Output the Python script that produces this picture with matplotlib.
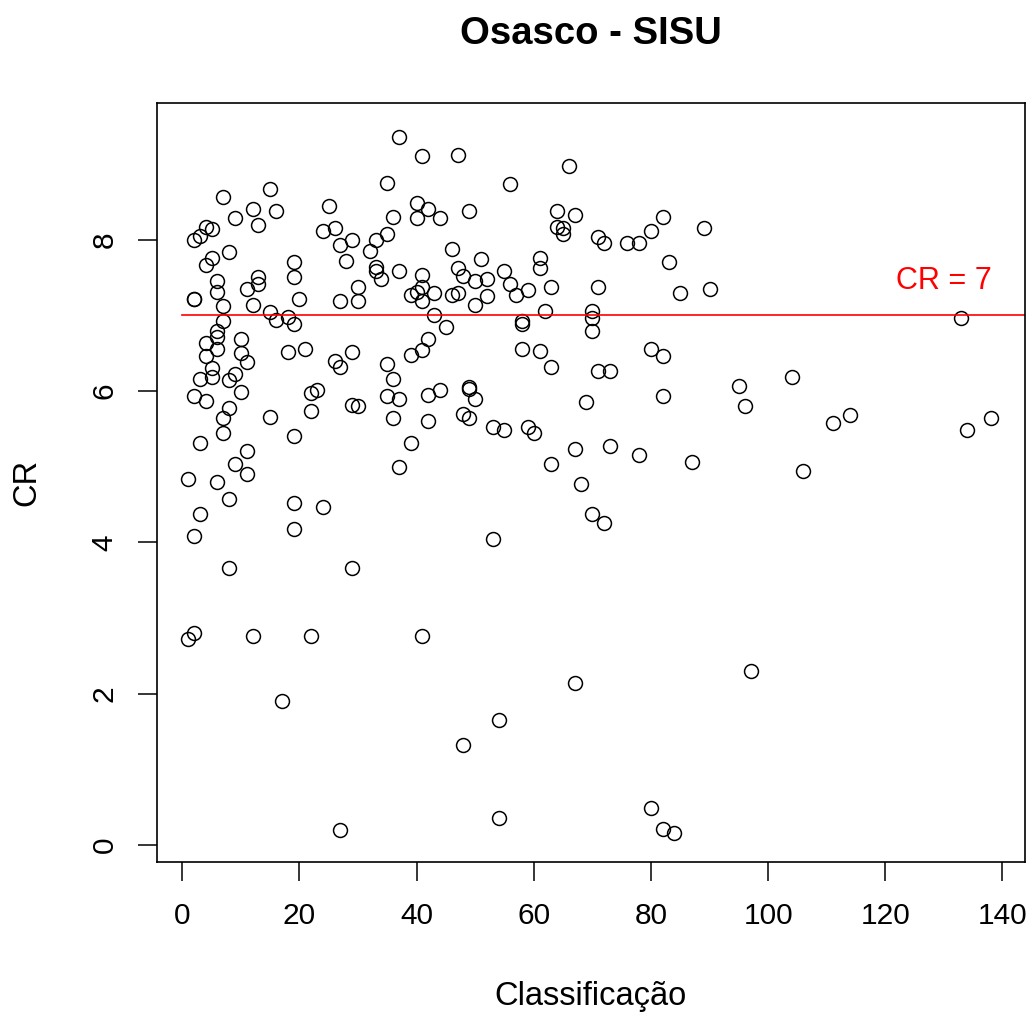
import numpy as np
import matplotlib
matplotlib.use('Agg')
import matplotlib.pyplot as plt

# classificacao (x) e CR (y)
classificacao = [37, 35, 15, 7, 12, 16, 9, 13, 25, 36, 4, 5, 3, 2, 24, 26, 27, 29, 35, 33,
                 32, 8, 5, 4, 28, 19, 19, 33, 33, 34, 37, 6, 6, 13, 13, 11, 30, 30, 27, 2,
                 2, 7, 12, 20, 15, 16, 18, 19, 7, 6, 6, 4, 6, 10, 4, 10, 11, 18, 21, 26,
                 27, 29, 5, 5, 3, 8, 9, 10, 2, 4, 35, 36, 35, 37, 36, 22, 23, 22, 29, 30,
                 8, 7, 7, 15, 3, 19, 11, 9, 11, 37, 1, 6,
                 8, 3, 19, 19, 24, 2, 8, 29, 2, 1, 12, 22, 17, 27,
                 41, 47, 66, 56, 40, 42, 40, 44, 49, 64, 67, 64, 65, 65, 71, 72, 76, 78, 46, 51,
                 61, 61, 41, 41, 47, 48, 50, 52, 55, 56, 57, 59, 63, 71, 39, 40, 41, 43, 46, 47,
                 50, 52, 62, 70, 70, 70, 43, 45, 58, 58, 42, 41, 39, 58, 61, 63, 71, 73, 49, 49,
                 50, 42, 44, 69, 48, 49, 42, 53, 55, 59, 60, 39, 67, 73, 78, 63, 68,
                 70, 72, 53, 41, 67, 54, 48, 54,
                 80, 82, 89, 83, 85, 90, 133, 80, 82, 82, 95, 96, 104, 111, 114, 134, 138, 87, 106,
                 97, 80, 82, 84]
cr = [9.36, 8.75, 8.67, 8.57, 8.41, 8.38, 8.28, 8.20, 8.44, 8.30, 8.17, 8.14, 8.05, 7.99, 8.12, 8.15, 7.93, 7.99, 8.07, 7.99,
      7.85, 7.84, 7.76, 7.67, 7.72, 7.71, 7.51, 7.64, 7.58, 7.48, 7.58, 7.45, 7.31, 7.51, 7.42, 7.35, 7.38, 7.19, 7.19, 7.22,
      7.21, 7.12, 7.14, 7.22, 7.05, 6.94, 6.98, 6.88, 6.92, 6.80, 6.72, 6.63, 6.56, 6.69, 6.46, 6.50, 6.39, 6.52, 6.55, 6.40,
      6.32, 6.52, 6.30, 6.19, 6.16, 6.14, 6.23, 5.99, 5.93, 5.87, 6.36, 6.16, 5.94, 5.90, 5.64, 5.97, 6.01, 5.74, 5.81, 5.80,
      5.77, 5.64, 5.45, 5.66, 5.32, 5.40, 5.21, 5.03, 4.90, 5.00, 4.84, 4.80,
      4.58, 4.37, 4.52, 4.18, 4.47, 4.08, 3.66, 3.66, 2.81, 2.73, 2.76, 2.76, 1.91, 0.20,
      9.10, 9.12, 8.97, 8.73, 8.49, 8.41, 8.28, 8.28, 8.38, 8.38, 8.33, 8.17, 8.16, 8.07, 8.04, 7.96, 7.96, 7.96, 7.88, 7.75,
      7.76, 7.62, 7.54, 7.38, 7.63, 7.52, 7.46, 7.48, 7.59, 7.41, 7.27, 7.33, 7.38, 7.38, 7.27, 7.31, 7.19, 7.30, 7.27, 7.30,
      7.14, 7.25, 7.06, 7.06, 6.96, 6.80, 7.01, 6.85, 6.92, 6.88, 6.69, 6.54, 6.48, 6.56, 6.53, 6.32, 6.26, 6.26, 6.06, 6.03,
      5.90, 5.95, 6.02, 5.85, 5.70, 5.64, 5.61, 5.53, 5.48, 5.52, 5.45, 5.32, 5.24, 5.27, 5.16, 5.03, 4.77,
      4.37, 4.26, 4.05, 2.76, 2.15, 1.65, 1.33, 0.36,
      8.12, 8.30, 8.15, 7.70, 7.30, 7.35, 6.96, 6.55, 6.46, 5.93, 6.07, 5.80, 6.19, 5.58, 5.68, 5.48, 5.64, 5.06, 4.95,
      2.30, 0.49, 0.22, 0.16]
corte = 7
x_ticks = [0, 20, 40, 60, 80, 100, 120, 140]
y_ticks = [0, 2, 4, 6, 8]

plt.rcParams['font.family'] = ['Liberation Sans', 'DejaVu Sans']

fig = plt.figure(figsize=(10.33, 10.14), dpi=100)
ax = fig.add_axes([0.152, 0.150, 0.840, 0.748])

ax.plot(classificacao, cr, linestyle='none', marker='o', markersize=10,
        markerfacecolor='none', markeredgecolor='black', markeredgewidth=1.1)
ax.plot([0, 150], [corte, corte], color='red', linewidth=1.2)
ax.text(130, 7.46, 'CR = 7', color='red', fontsize=22, ha='center', va='center')

ax.set_xlim(-4.3, 143.8)
ax.set_ylim(-0.22, 9.80)
ax.set_xticks(x_ticks)
ax.set_yticks(y_ticks)
ax.tick_params(labelsize=21.5, length=13.7, width=1.1)
ax.tick_params(axis='x', pad=15)
ax.tick_params(axis='y', pad=14)
for lbl in ax.get_yticklabels():
    lbl.set_rotation(90)
    lbl.set_va('center')
for sp in ax.spines.values():
    sp.set_linewidth(1.2)

ax.set_xlabel('Classificação', fontsize=23.5)
ax.xaxis.set_label_coords(0.5, -0.178)
ax.xaxis.label.set_va('center')
ax.set_ylabel('CR', fontsize=23.5)
ax.yaxis.set_label_coords(-0.150, 0.5)
ax.yaxis.label.set_va('center')
# titulo centrado sobre o eixo, como no R
fig.text(0.572, 1 - 34 / 1014, 'Osasco - SISU', fontsize=27.5, fontweight='bold',
         ha='center', va='center')

fig.savefig('out.png', dpi=100)
